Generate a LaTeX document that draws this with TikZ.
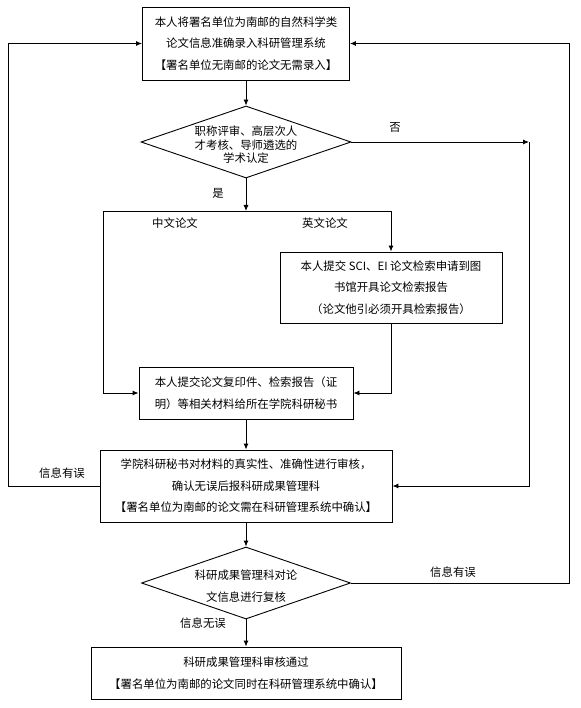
\documentclass[tikz,border=0pt]{standalone}
\usepackage{fontspec}
\newfontfamily\cjk{Noto Sans CJK SC}
\usetikzlibrary{shapes.geometric,arrows.meta}
\begin{document}
\begin{tikzpicture}[x=1pt, y=-1pt, line width=0.9pt, >={Latex[length=6pt,width=5pt]},
  every node/.style={font=\cjk\fontsize{11.4}{21.5}\selectfont},
  box/.style={draw,rectangle,align=center,inner sep=0pt},
  judgebox/.style={draw,diamond,inner sep=0pt},
  tag/.style={inner sep=1pt}]
\useasboundingbox (0,0) rectangle (580,708);
\node[box,minimum width=207pt,minimum height=73pt] (entry) at (246,43.5) {本人将署名单位为南邮的自然科学类\\论文信息准确录入科研管理系统\\【署名单位无南邮的论文无需录入】};
\node[judgebox,minimum width=210pt,minimum height=72pt] (judge) at (246,142) {};
\node[align=center,font=\cjk\fontsize{11.4}{13.5}\selectfont] (judgetext) at (246,145) {职称评审、高层次人\\才考核、导师遴选的\\学术认定};
\node[box,minimum width=222pt,minimum height=71pt] (sci) at (391,287.5) {本人提交 SCI、EI 论文检索申请到图\\书馆开具论文检索报告\\（论文他引必须开具检索报告）};
\node[box,minimum width=214pt,minimum height=52pt] (submit) at (246,393) {本人提交论文复印件、检索报告（证\\明）等相关材料给所在学院科研秘书};
\node[box,minimum width=292pt,minimum height=72pt] (check) at (246,486) {学院科研秘书对材料的真实性、准确性进行审核，\\确认无误后报科研成果管理科\\【署名单位为南邮的论文需在科研管理系统中确认】};
\node[judgebox,minimum width=209pt,minimum height=72pt] (review) at (246,583) {};
\node[align=center] (reviewtext) at (246,586) {科研成果管理科对论\\文信息进行复核};
\node[box,minimum width=310pt,minimum height=52pt] (pass) at (246,673) {科研成果管理科审核通过\\【署名单位为南邮的论文同时在科研管理系统中确认】};
\node[tag] (nolabel) at (395,127) {否};
\node[tag] (yeslabel) at (218,193) {是};
\node[tag] (cnlabel) at (175,223) {中文论文};
\node[tag] (enlabel) at (325,223) {英文论文};
\node[tag] (errlabelL) at (62,473) {信息有误};
\node[tag] (errlabelR) at (453,572) {信息有误};
\node[tag] (oklabel) at (203,623) {信息无误};
\coordinate (nohook) at (529,142);
\coordinate (fork) at (246,211);
\coordinate (cnturn) at (103,211);
\coordinate (enturn) at (391,211);
\coordinate (backL) at (8,486);
\coordinate (backR) at (569,583);
\draw[->] (entry) -- (judge);
\draw[->] (judge.east) -- (nohook);
\draw[->] (nohook) |- (check.east);
\draw[->] (judge.south) -- (fork);
\draw (cnturn) -- (enturn);
\draw[->] (cnturn) |- (submit.west);
\draw[->] (enturn) -- (sci.north);
\draw[->] (sci.south) |- (submit.east);
\draw[->] (submit) -- (check);
\draw[->] (check.west) -- (backL) |- (entry.west);
\draw[->] (check) -- (review);
\draw[->] (review.east) -- (backR) |- (entry.east);
\draw[->] (review) -- (pass);
\end{tikzpicture}
\end{document}
